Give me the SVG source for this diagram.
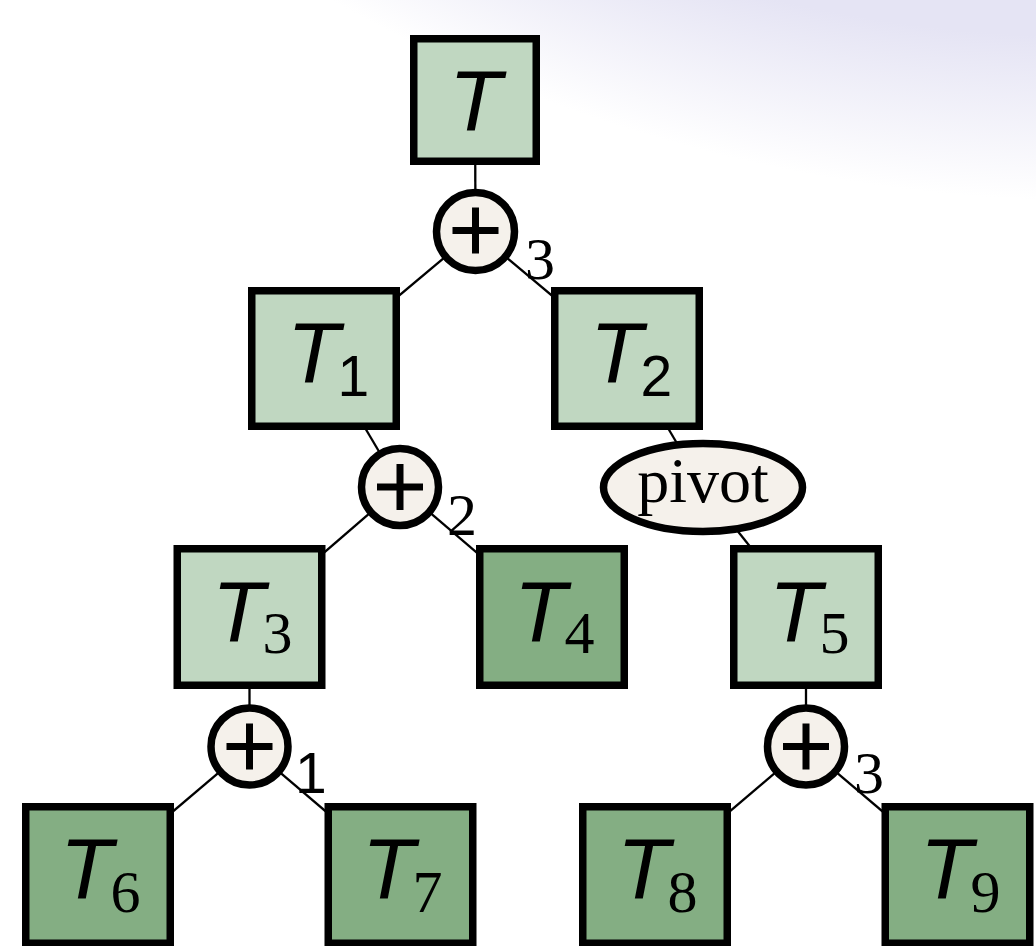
<svg xmlns="http://www.w3.org/2000/svg" width="1036" height="946" viewBox="0 0 1036 946">
<defs>
<radialGradient id="bg" gradientUnits="userSpaceOnUse" cx="1097" cy="-1362" r="1563">
<stop offset="0.895" stop-color="#e5e4f4"/>
<stop offset="1" stop-color="#ffffff"/>
</radialGradient>
<style>
.box{stroke:#000;stroke-width:7.5}
.light{fill:#c0d7c1}
.dark{fill:#84ae83}
.op{fill:#f5f1eb;stroke:#000;stroke-width:7.5}
.plus{stroke:#000;stroke-width:7;fill:none}
.edge{stroke:#000;stroke-width:2.3;fill:none}
.lbl{font-family:"Liberation Sans",Arial,sans-serif;font-style:italic;font-size:86px;fill:#000}
.sub{font-style:normal;font-size:57px}
.ser{font-family:"Liberation Serif","Times New Roman",serif;font-size:60px}
.num{font-size:60px;fill:#000}
.sans{font-family:"Liberation Sans",Arial,sans-serif;font-size:57px}
.piv{font-family:"Liberation Serif","Times New Roman",serif;font-size:64px;fill:#000;text-anchor:middle}
</style>
</defs>
<rect width="1036" height="946" fill="#ffffff"/>
<rect width="1036" height="946" fill="url(#bg)"/>
<g id="connectors">
<line class="edge" x1="475" y1="100" x2="475.5" y2="231.5"/>
<line class="edge" x1="475.5" y1="231.5" x2="324" y2="358.5"/>
<line class="edge" x1="475.5" y1="231.5" x2="627" y2="358.5"/>
<line class="edge" x1="324" y1="358.5" x2="400" y2="487"/>
<line class="edge" x1="400" y1="487" x2="249.5" y2="617"/>
<line class="edge" x1="400" y1="487" x2="552" y2="617"/>
<line class="edge" x1="627" y1="358.5" x2="703" y2="487.5"/>
<line class="edge" x1="703" y1="487.5" x2="806" y2="617"/>
<line class="edge" x1="249.5" y1="617" x2="249.5" y2="746.5"/>
<line class="edge" x1="249.5" y1="746.5" x2="98" y2="875"/>
<line class="edge" x1="249.5" y1="746.5" x2="400.5" y2="875"/>
<line class="edge" x1="806" y1="617" x2="806" y2="746.5"/>
<line class="edge" x1="806" y1="746.5" x2="655" y2="875"/>
<line class="edge" x1="806" y1="746.5" x2="957.5" y2="875"/>
</g>
<g id="nodeT"><rect class="box light" x="413.75" y="38.75" width="122.5" height="122.5"/><text class="lbl" x="449" y="130">T</text></g>
<g id="op1"><circle class="op" cx="475.5" cy="231.5" r="39"/><path class="plus" d="M452.5 230.5h46M475.5 207.5v46"/><text class="num ser" x="525" y="279">3</text></g>
<g id="nodeT1"><rect class="box light" x="251.75" y="290.75" width="144.5" height="135.5"/><text class="lbl" x="287" y="382">T<tspan class="sub sans" dx="-2" dy="14">1</tspan></text></g>
<g id="nodeT2"><rect class="box light" x="554.75" y="290.75" width="144.5" height="135.5"/><text class="lbl" x="590" y="382">T<tspan class="sub sans" dx="-2" dy="14">2</tspan></text></g>
<g id="op2"><circle class="op" cx="400" cy="487" r="38.5"/><path class="plus" d="M377 487h46M400 464v46"/><text class="num ser" x="447" y="535">2</text></g>
<g id="pivot"><ellipse class="op" cx="703" cy="487.5" rx="99.5" ry="44"/><text class="piv" x="703" y="502">pivot</text></g>
<g id="nodeT3"><rect class="box light" x="177.25" y="548.75" width="144.5" height="136.5"/><text class="lbl" x="212" y="641">T<tspan class="sub ser" dx="-2" dy="12">3</tspan></text></g>
<g id="nodeT4"><rect class="box dark" x="479.75" y="548.75" width="144.5" height="136.5"/><text class="lbl" x="514" y="641">T<tspan class="sub ser" dx="-2" dy="12">4</tspan></text></g>
<g id="nodeT5"><rect class="box light" x="733.75" y="548.75" width="144.5" height="136.5"/><text class="lbl" x="769" y="641">T<tspan class="sub ser" dx="-2" dy="12">5</tspan></text></g>
<g id="op3"><circle class="op" cx="249.5" cy="746.5" r="38.5"/><path class="plus" d="M226.5 746.5h46M249.5 723.5v46"/><text class="num sans" x="295" y="793">1</text></g>
<g id="op4"><circle class="op" cx="806" cy="746.5" r="38.5"/><path class="plus" d="M783 746.5h46M806 723.5v46"/><text class="num ser" x="854" y="793">3</text></g>
<g id="nodeT6"><rect class="box dark" x="25.75" y="806.75" width="144.5" height="136.5"/><text class="lbl" x="60" y="898">T<tspan class="sub ser" dx="-2" dy="14">6</tspan></text></g>
<g id="nodeT7"><rect class="box dark" x="328.25" y="806.75" width="144.5" height="136.5"/><text class="lbl" x="362" y="898">T<tspan class="sub ser" dx="-2" dy="14">7</tspan></text></g>
<g id="nodeT8"><rect class="box dark" x="582.75" y="806.75" width="144.5" height="136.5"/><text class="lbl" x="617" y="898">T<tspan class="sub ser" dx="-2" dy="14">8</tspan></text></g>
<g id="nodeT9"><rect class="box dark" x="885.25" y="806.75" width="144.5" height="136.5"/><text class="lbl" x="920" y="898">T<tspan class="sub ser" dx="-2" dy="14">9</tspan></text></g>
</svg>
